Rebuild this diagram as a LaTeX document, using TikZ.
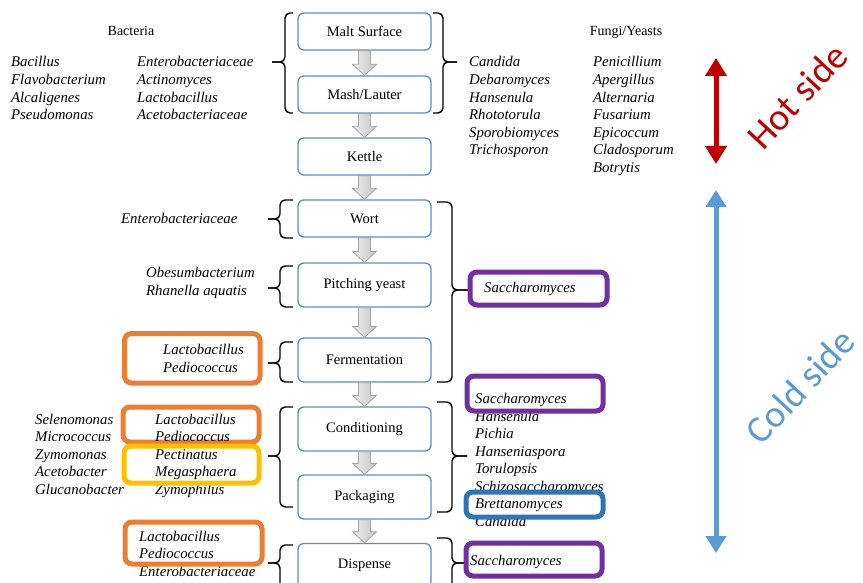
\documentclass[tikz,border=0pt]{standalone}
\usepackage{fontspec}
\setmainfont{Liberation Serif}
\newfontfamily\carl{Carlito}
\usetikzlibrary{arrows.meta,calc}
\definecolor{boxblue}{HTML}{5B8CC8}
\definecolor{orangeb}{HTML}{ED7D31}
\definecolor{yellowb}{HTML}{FFC000}
\definecolor{purpleb}{HTML}{7030A0}
\definecolor{blueb}{HTML}{2E75B6}
\definecolor{hotred}{HTML}{C00000}
\definecolor{coldblue}{HTML}{5B9BD5}
\tikzset{
  stage/.style={draw=boxblue, line width=1.3, rounded corners=6, fill=white,
    minimum width=133, inner sep=0, font=\fontsize{14.5}{16}\selectfont},
  hdr/.style={anchor=base, inner sep=0, font=\fontsize{14}{16}\selectfont},
  it/.style={anchor=base west, inner sep=0, font=\fontsize{14.8}{16}\selectfont\itshape},
  hl/.style={draw=#1, line width=5, rounded corners=7, fill=white},
  brk/.style={draw=black, line width=1.4, rounded corners=5},
  garr/.style={draw=gray!70, line width=0.8, left color=gray!15, right color=gray!45},
  side/.style={inner sep=0, font=\carl\fontsize{38}{42}\selectfont, rotate=47}
}
\newcommand{\garrow}[2]{\draw[garr] ($(#1.south)+(-6,0)$) -- ($(#2.north)+(-6,-11)$) -- ($(#2.north)+(-12,-11)$) -- (#2.north) -- ($(#2.north)+(12,-11)$) -- ($(#2.north)+(6,-11)$) -- ($(#1.south)+(6,0)$) -- cycle;}
% bracket: hook x, vertical x, tip x, top y, tip y, bottom y
\newcommand{\brkt}[6]{\draw[brk] (#1,#4) -- (#2,#4) -- (#2,#5) -- (#3,#5); \draw[brk] (#1,#6) -- (#2,#6) -- (#2,#5) -- (#3,#5);}
\begin{document}
\begin{tikzpicture}[x=1pt,y=-1pt]
\useasboundingbox (0,0) rectangle (863,583);

% headers
\node[hdr] (bachdr) at (131,36) {Bacteria};
\node[hdr] (funhdr) at (626,36) {Fungi/Yeasts};

% bacteria lists
\foreach \t [count=\i] in {Bacillus, Flavobacterium, Alcaligenes, Pseudomonas}
  \node[it] (bA\i) at (11,{67+17.6*(\i-1)}) {\t};
\foreach \t [count=\i] in {Enterobacteriaceae, Actinomyces, Lactobacillus, Acetobacteriaceae}
  \node[it] (bB\i) at (137,{67+17.6*(\i-1)}) {\t};
% fungi lists
\foreach \t [count=\i] in {Candida, Debaromyces, Hansenula, Rhototorula, Sporobiomyces, Trichosporon}
  \node[it] (fA\i) at (469,{67+17.6*(\i-1)}) {\t};
\foreach \t [count=\i] in {Penicillium, Apergillus, Alternaria, Fusarium, Epicoccum, Cladosporum, Botrytis}
  \node[it] (fB\i) at (593,{67+17.6*(\i-1)}) {\t};

% stage boxes
\node[stage, minimum height=37] (malt) at (364.5,31.5) {Malt Surface};
\node[stage, minimum height=37] (mash) at (364.5,94.5) {Mash/Lauter};
\node[stage, minimum height=37] (kettle) at (364.5,156.5) {Kettle};
\node[stage, minimum height=37] (wort) at (364.5,218.5) {Wort};
\node[stage, minimum height=44] (pitch) at (364.5,285) {Pitching yeast};
\node[stage, minimum height=44] (ferm) at (364.5,360) {Fermentation};
\node[stage, minimum height=44] (cond) at (364.5,429) {Conditioning};
\node[stage, minimum height=44] (pack) at (364.5,497) {Packaging};
\node[stage, minimum height=44] (disp) at (364.5,565.5) {Dispense};

% gray arrows
\garrow{malt}{mash}
\garrow{mash}{kettle}
\garrow{kettle}{wort}
\garrow{wort}{pitch}
\garrow{pitch}{ferm}
\garrow{ferm}{cond}
\garrow{cond}{pack}
\garrow{pack}{disp}

% brackets
\brkt{293}{285}{272}{13}{62}{113}
\brkt{433}{443}{457}{13}{62}{113}
\brkt{293}{280}{268}{200}{219}{238}
\brkt{293}{280}{268}{266}{288}{307}
\brkt{293}{280}{268}{342}{363}{382}
\brkt{437}{452}{468}{202}{290}{382}
\brkt{293}{280}{268}{407}{456}{507}
\brkt{437}{452}{467}{402}{456}{512}
\brkt{293}{280}{268}{545}{563}{600}
\brkt{437}{452}{467}{538}{563}{600}

% left side texts
\node[it] (ent1) at (121,223) {Enterobacteriaceae};
\node[it] (obes) at (146,277) {Obesumbacterium};
\node[it] (rhan) at (146,295) {Rhanella aquatis};

\node[it] (ent2) at (139,576) {Enterobacteriaceae};
\foreach \t [count=\i] in {Selenomonas, Micrococcus, Zymomonas, Acetobacter, Glucanobacter}
  \node[it] (cA\i) at (35,{424+17.6*(\i-1)}) {\t};
\node[it] (zymo) at (155,494.4) {Zymophilus};

% right list (conditioning/packaging)
\foreach \t [count=\i] in {Hansenula, Pichia, Hanseniaspora, Torulopsis, Schizosaccharomyces, Brettanomyces, Candida}
  \node[it] (cB\i) at (475,{421+17.5*(\i-1)}) {\t};

% highlight boxes
\draw[hl=orangeb] (124.5,333.5) rectangle (260,383);
\node[it] (lac1) at (163,354) {Lactobacillus};
\node[it] (ped1) at (163,372) {Pediococcus};

\draw[hl=orangeb] (123,407) rectangle (259,442);
\node[it] (lac2) at (155,424) {Lactobacillus};
\node[it] (ped2) at (155,441.6) {Pediococcus};
\draw[hl=yellowb, fill=none] (124,446) rectangle (259,483);
\node[it] (pect) at (155,459.2) {Pectinatus};
\node[it] (mega) at (155,476.8) {Megasphaera};

\draw[hl=orangeb] (125,522) rectangle (262,564);
\node[it] (lac3) at (139,541) {Lactobacillus};
\node[it] (ped3) at (139,558.6) {Pediococcus};

\draw[hl=purpleb] (470,272) rectangle (607,305);
\node[it] (sac1) at (484,292) {Saccharomyces};
\draw[hl=purpleb] (467,376) rectangle (603,411);
\node[it] (sac2) at (475,403) {Saccharomyces};
\draw[hl=blueb] (466,492) rectangle (603,517);
\node[it] (bret) at (475,508.5) {Brettanomyces};
\draw[hl=purpleb] (466,543) rectangle (602,576);
\node[it] (sac3) at (470,565) {Saccharomyces};

% hot / cold arrows
\coordinate (hotT) at (716,58);
\coordinate (hotB) at (716,164);
\draw[hotred, line width=5, {Triangle[width=21,length=18]}-{Triangle[width=21,length=18]}] (hotT) -- (hotB);
\coordinate (coldT) at (716,190);
\coordinate (coldB) at (716,553);
\draw[coldblue, line width=5, {Triangle[width=20,length=17]}-{Triangle[width=20,length=17]}] (coldT) -- (coldB);

\node[side, text=hotred] (hot) at (797,96) {Hot side};
\node[side, text=coldblue] (cold) at (800,386) {Cold side};
\end{tikzpicture}
\end{document}
